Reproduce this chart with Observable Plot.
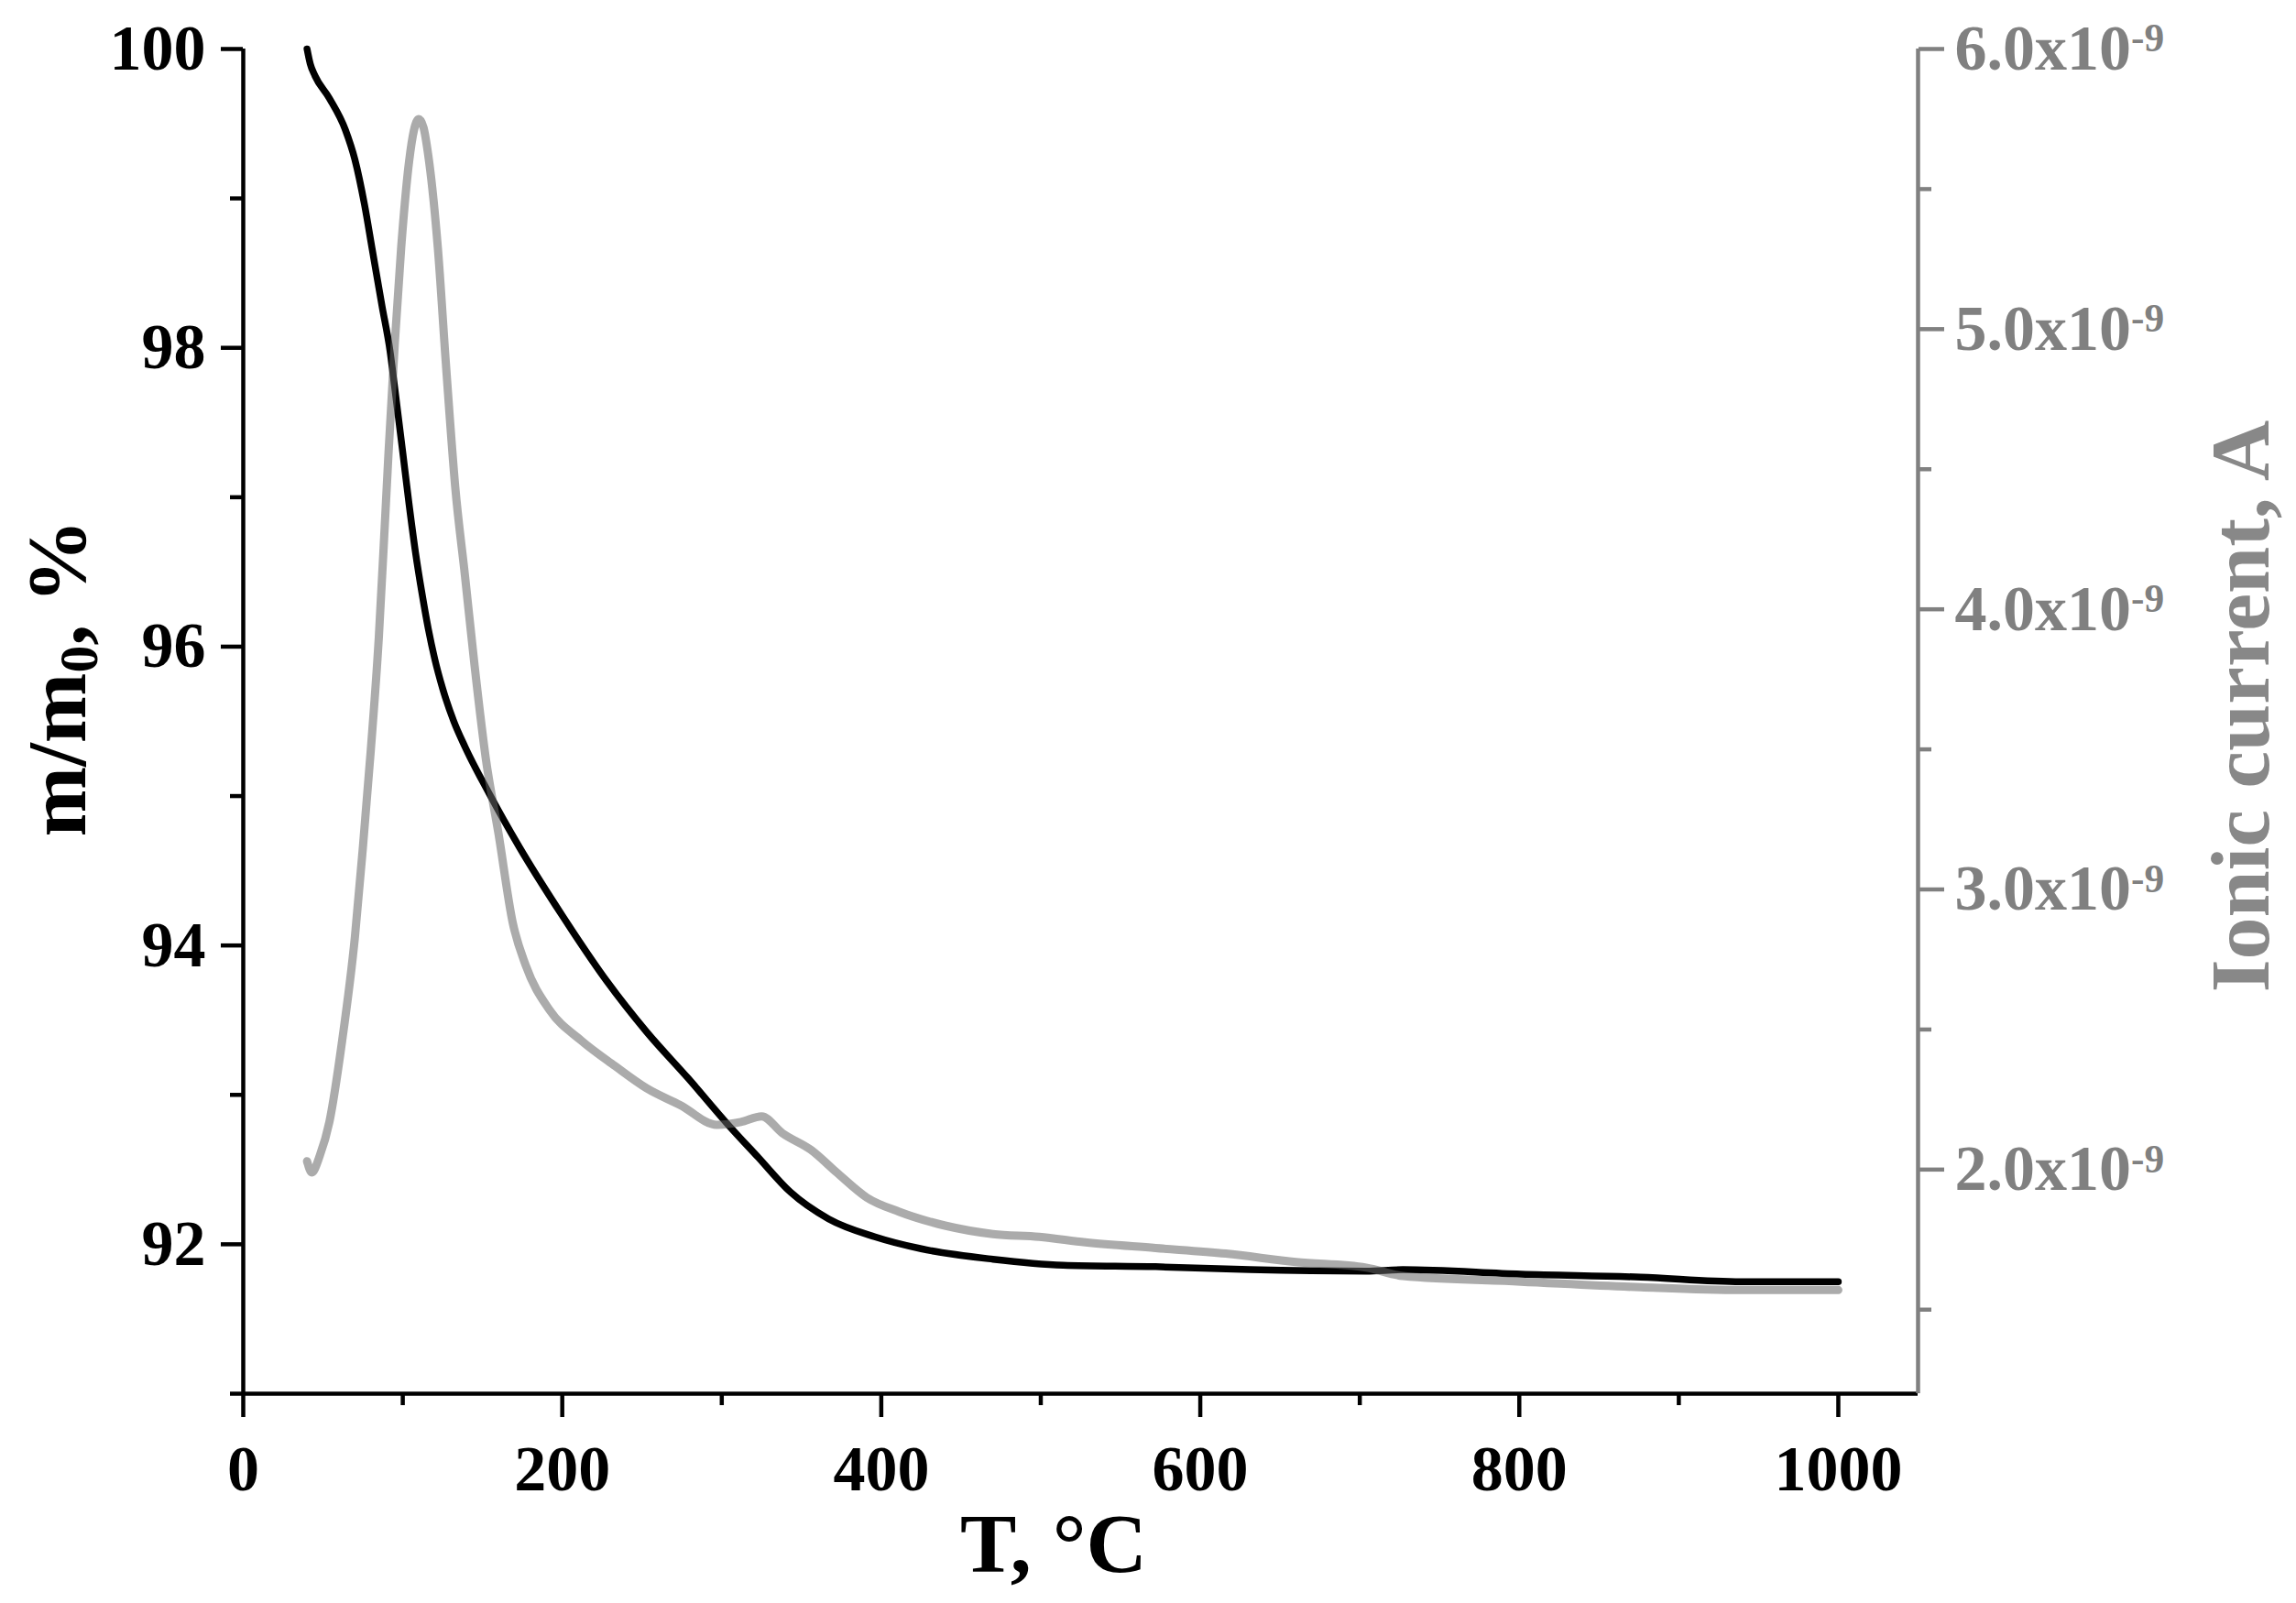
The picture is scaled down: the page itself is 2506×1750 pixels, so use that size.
<!DOCTYPE html>
<html><head><meta charset="utf-8">
<script src="https://cdn.jsdelivr.net/npm/d3@7"></script>
<script src="https://cdn.jsdelivr.net/npm/@observablehq/plot@0.6"></script>
<style>html,body{margin:0;padding:0;background:#fff}svg{display:block}</style>
</head><body><div id="chart"></div>
<script>
// ---- data ----
const massT   = [40, 42, 45, 54, 64, 70, 76, 81, 87, 92, 95, 100, 104, 108, 112, 116, 120, 125, 132, 139, 154, 173, 200, 228, 253, 279, 304, 323, 343, 367, 396, 425, 470, 514, 572, 631, 704, 727, 801, 876, 939, 1000];
const massPct = [100.0, 99.9, 99.82, 99.67, 99.46, 99.26, 98.96, 98.65, 98.28, 97.98, 97.73, 97.3, 96.95, 96.63, 96.36, 96.12, 95.92, 95.72, 95.5, 95.33, 95.02, 94.66, 94.2, 93.76, 93.42, 93.11, 92.8, 92.58, 92.35, 92.17, 92.05, 91.97, 91.9, 91.86, 91.85, 91.83, 91.82, 91.83, 91.80, 91.78, 91.75, 91.75];

const ionT = [40, 43, 48, 54, 62, 70, 75, 80, 85, 89, 91, 95, 99, 104, 107, 110, 113, 116, 122, 127, 133, 139, 145, 152, 160, 169, 177, 192, 212, 233, 253, 274, 297, 312, 325, 338, 356, 372, 391, 411, 440, 470, 499, 528, 572, 616, 660, 704, 727, 801, 876, 939, 1000];
const ionCurrent = [2.03e-9, 1.99e-9, 2.05e-9, 2.17e-9, 2.46e-9, 2.83e-9, 3.15e-9, 3.50e-9, 3.90e-9, 4.33e-9, 4.55e-9, 4.95e-9, 5.29e-9, 5.60e-9, 5.71e-9, 5.75e-9, 5.72e-9, 5.62e-9, 5.29e-9, 4.88e-9, 4.43e-9, 4.12e-9, 3.80e-9, 3.47e-9, 3.20e-9, 2.88e-9, 2.73e-9, 2.57e-9, 2.46e-9, 2.37e-9, 2.29e-9, 2.23e-9, 2.16e-9, 2.17e-9, 2.19e-9, 2.13e-9, 2.07e-9, 1.99e-9, 1.90e-9, 1.85e-9, 1.80e-9, 1.77e-9, 1.76e-9, 1.74e-9, 1.72e-9, 1.70e-9, 1.67e-9, 1.65e-9, 1.62e-9, 1.60e-9, 1.58e-9, 1.57e-9, 1.57e-9];

const xTicks = [0, 200, 400, 600, 800, 1000];
const xMinorTicks = [100, 300, 500, 700, 900];
const leftTicks = [92, 94, 96, 98, 100];
const leftMinorTicks = [91, 93, 95, 97, 99];
const rightTicks = [2e-9, 3e-9, 4e-9, 5e-9, 6e-9];
const rightTickMantissa = ["2.0x10", "3.0x10", "4.0x10", "5.0x10", "6.0x10"];
const rightTickExponent = ["-9", "-9", "-9", "-9", "-9"];
const rightMinorTicks = [1.5e-9, 2.5e-9, 3.5e-9, 4.5e-9, 5.5e-9];

const xLabel = "T, °C";
const leftLabelMain = "m/m";
const leftLabelSub = "0";
const leftLabelRest = ", %";
const rightLabel = "Ionic current, A";

// ---- scales ----
const xDomain = [0, 1050];
const leftDomain = [91, 100];
const rightDomain = [1.2e-9, 6.0e-9];
const toLeft = v => leftDomain[0] + (v - rightDomain[0]) * (leftDomain[1] - leftDomain[0]) / (rightDomain[1] - rightDomain[0]);

const massRows = massT.map((t, i) => ({T: t, m: massPct[i]}));
const ionRows = ionT.map((t, i) => ({T: t, I: ionCurrent[i]}));
const rightTickPos = rightTicks.map(toLeft);

const W = 2506, H = 1750;
const GRAY = "#808080";
const FONT = "'Liberation Serif', 'Times New Roman', Tinos, serif";

const chart = Plot.plot({
  width: W, height: H,
  marginLeft: 265, marginRight: 413, marginTop: 53, marginBottom: 229,
  x: {domain: xDomain},
  y: {domain: leftDomain},
  style: {fontFamily: FONT, fontWeight: "bold", fontSize: "70px", background: "white", color: "black"},
  marks: [
    Plot.axisX(xTicks, {anchor: "bottom", tickSize: 26, tickPadding: 30, strokeWidth: 4.5, label: null, fontSize: 70, fontWeight: "bold", tickFormat: d => String(d)}),
    Plot.axisX(xMinorTicks, {anchor: "bottom", tickSize: 13, strokeWidth: 4.5, text: null, label: null}),
    Plot.axisY(leftTicks, {anchor: "left", tickSize: 24, tickPadding: 17, strokeWidth: 4.5, label: null, fontSize: 70, fontWeight: "bold", tickFormat: d => String(d)}),
    Plot.axisY(leftMinorTicks, {anchor: "left", tickSize: 14, strokeWidth: 4.5, text: null, label: null}),
    Plot.axisY(rightTickPos, {anchor: "right", tickSize: 28, tickPadding: 12, strokeWidth: 4.5, color: GRAY, label: null, fontSize: 70, fontWeight: "bold",
      tickFormat: d => { const i = d3.minIndex(rightTickPos, p => Math.abs(p - d)); return rightTickMantissa[i] + "^" + rightTickExponent[i]; }}),
    Plot.axisY(rightMinorTicks.map(toLeft), {anchor: "right", tickSize: 14, strokeWidth: 4.5, color: GRAY, text: null, label: null}),
    Plot.ruleX([xDomain[0]], {strokeWidth: 4.5}),
    Plot.ruleY([leftDomain[0]], {strokeWidth: 4.5}),
    Plot.ruleX([xDomain[1]], {stroke: GRAY, strokeWidth: 4.5}),
    Plot.line(massRows, {x: "T", y: "m", stroke: "#000", strokeWidth: 7.5, curve: "monotone-x"}),
    Plot.line(ionRows, {x: "T", y: d => toLeft(d.I), stroke: "#666", strokeOpacity: 0.55, strokeWidth: 9, curve: "monotone-x"})
  ]
});

document.getElementById("chart").appendChild(chart);

// superscripts on right tick labels
d3.select(chart).selectAll("text").each(function() {
  const t = this.textContent;
  if (t.includes("^")) {
    const [a, b] = t.split("^");
    const sel = d3.select(this);
    sel.text(null);
    sel.append("tspan").text(a);
    sel.append("tspan").attr("dy", "-0.45em").attr("font-size", "0.62em").text(b);
  }
});

// axis titles
const svg = d3.select(chart);
svg.append("text")
  .attr("x", 1150).attr("y", 1716)
  .attr("text-anchor", "middle")
  .attr("font-family", FONT).attr("font-weight", "bold").attr("font-size", 92)
  .attr("fill", "black")
  .text(xLabel);

const lt = svg.append("text")
  .attr("transform", "translate(93,740) rotate(-90)")
  .attr("text-anchor", "middle")
  .attr("font-family", FONT).attr("font-weight", "bold").attr("font-size", 92)
  .attr("fill", "black");
lt.append("tspan").text(leftLabelMain);
lt.append("tspan").attr("dy", "0.22em").attr("font-size", "0.65em").text(leftLabelSub);
lt.append("tspan").attr("dy", "-0.143em").text(leftLabelRest);

svg.append("text")
  .attr("transform", "translate(2476,771) rotate(-90)")
  .attr("text-anchor", "middle")
  .attr("font-family", FONT).attr("font-weight", "bold").attr("font-size", 92)
  .attr("fill", "#888888")
  .text(rightLabel);
</script>
</body></html>
